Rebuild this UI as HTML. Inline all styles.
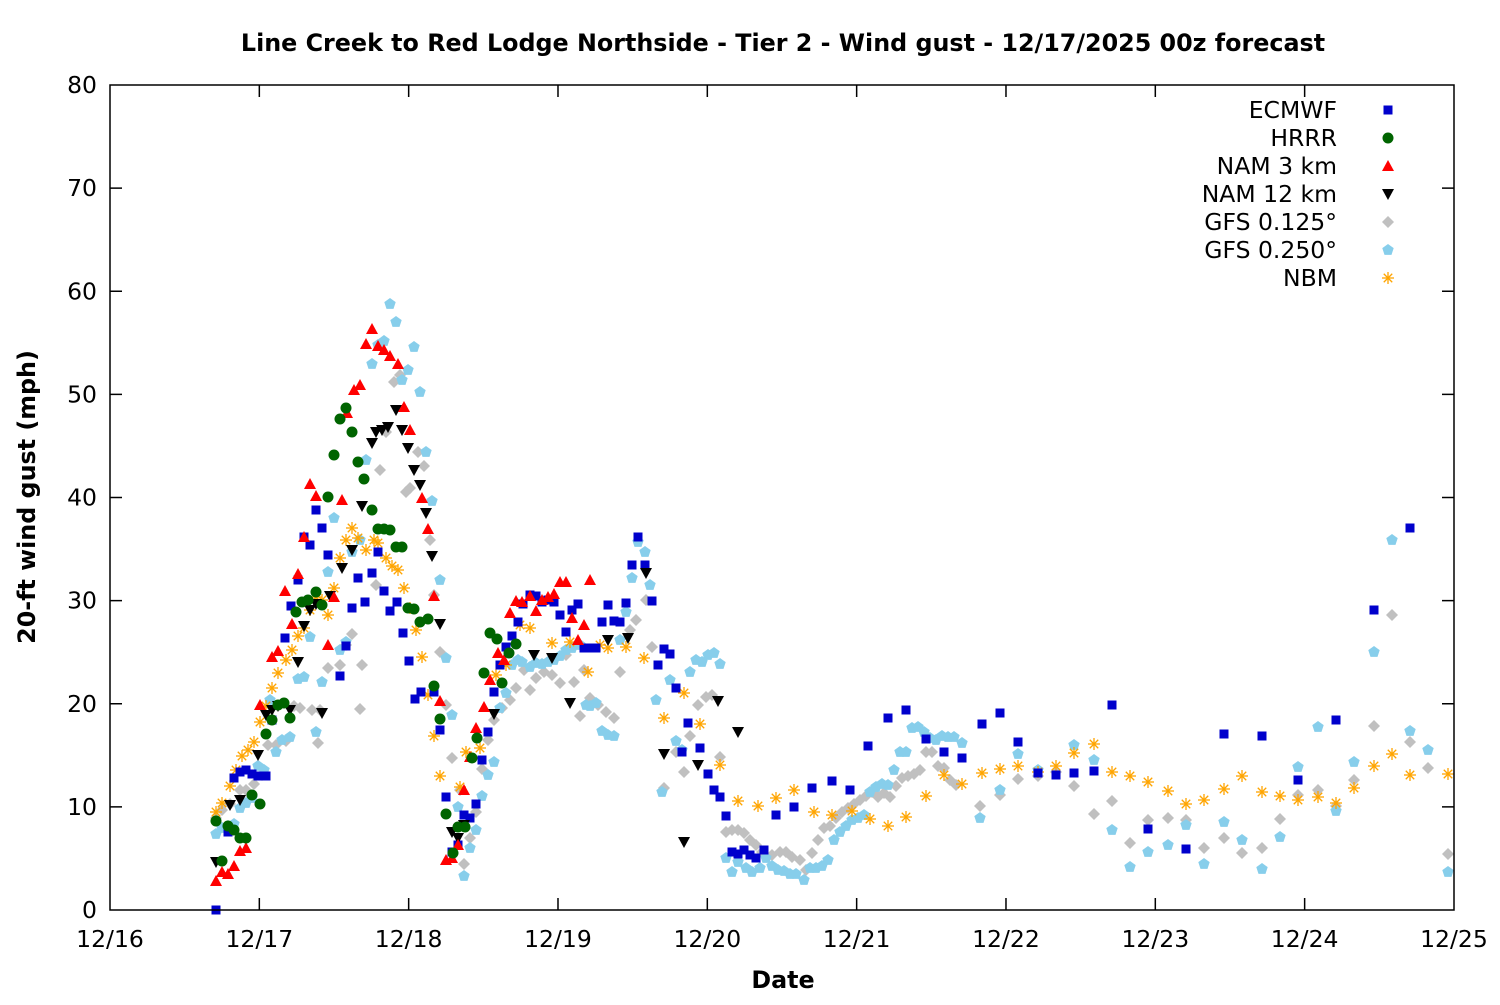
<!DOCTYPE html>
<html><head><meta charset="utf-8"><style>
html,body{margin:0;padding:0;background:#fff}
svg text{font-family:"DejaVu Sans","Liberation Sans",sans-serif}
</style></head><body>
<svg id="s" width="1500" height="1000" xmlns="http://www.w3.org/2000/svg">
<rect width="1500" height="1000" fill="#fff"/>
<text x="783" y="51" text-anchor="middle" font-size="23.8" font-weight="bold">Line Creek to Red Lodge Northside - Tier 2 - Wind gust - 12/17/2025 00z forecast</text>
<text x="783" y="988" text-anchor="middle" font-size="23.8" font-weight="bold">Date</text>
<text transform="translate(35,497) rotate(-90)" text-anchor="middle" font-size="23.8" font-weight="bold">20-ft wind gust (mph)</text>
<g id="ax" stroke="#000" stroke-width="1.5" fill="none"></g>
<g id="lab" font-size="23.5"></g>
<g id="pts"></g>
<g id="leg" font-size="23.5" text-anchor="end"></g>
<rect x="110" y="85" width="1344" height="825" fill="none" stroke="#000" stroke-width="1.5"/>
</svg>
<script>
var NS="http://www.w3.org/2000/svg";
function el(p,t,a,txt){var e=document.createElementNS(NS,t);for(var k in a)e.setAttribute(k,a[k]);if(txt!=null)e.textContent=txt;p.appendChild(e);return e;}
var ax=document.getElementById('ax'),lab=document.getElementById('lab');
for(var i=0;i<=8;i++){var y=910-i*103.125;
 if(i>0&&i<8){el(ax,'line',{x1:110,y1:y,x2:122,y2:y});el(ax,'line',{x1:1454,y1:y,x2:1442,y2:y});}
 el(lab,'text',{x:97,y:y+8,'text-anchor':'end'},String(i*10));}
var days=['12/16','12/17','12/18','12/19','12/20','12/21','12/22','12/23','12/24','12/25'];
for(var i=0;i<=9;i++){var x=110+i*149.33;
 if(i>0&&i<9){el(ax,'line',{x1:x,y1:910,x2:x,y2:898});el(ax,'line',{x1:x,y1:85,x2:x,y2:97});}
 el(lab,'text',{x:x,y:947,'text-anchor':'middle'},days[i]);}
function P(s){var a=s.trim().split(/;\s*/),r=[];a.forEach(function(q){var b=q.split(',');r.push([+b[0],+b[1]]);});return r;}
var D={
ec:P("216,910; 228,832; 234,778; 240,772; 246,770; 252,774; 258,776; 266,776; 272,720; 285,638; 291,606; 298,580; 304,537; 310,545; 316,510; 322,528; 328,555; 340,676; 346,646; 352,608; 358,578; 365,602; 372,573; 378,552; 384,591; 390,611; 397,602; 403,633; 409,661; 415,699; 421,692; 434,692; 440,730; 446,797; 452,852; 458,845; 464,815; 470,818; 476,804; 482,760; 488,732; 494,692; 500,665; 506,647; 512,636; 518,622; 523,604; 530,595; 536,596; 542,602; 548,600; 554,602; 560,615; 566,632; 572,610; 578,604; 584,648; 590,648; 596,648; 602,622; 608,605; 614,621; 620,622; 626,603; 632,565; 638,537; 645,565; 652,601; 658,665; 664,649; 670,654; 676,688; 682,752; 688,723; 700,748; 708,774; 714,790; 720,797; 726,816; 732,852; 738,854; 744,850; 750,855; 756,858; 764,850; 776,815; 794,807; 812,788; 832,781; 850,790; 868,746; 888,718; 906,710; 926,739; 944,752; 962,758; 982,724; 1000,713; 1018,742; 1038,773; 1056,775; 1074,773; 1094,771; 1112,705; 1148,829; 1186,849; 1224,734; 1262,736; 1298,780; 1336,720; 1374,610; 1410,528"),
hr:P("216,821; 222,861; 228,826; 234,830; 240,838; 246,838; 252,795; 260,804; 266,734; 272,720; 278,705; 284,703; 290,718; 296,612; 302,602; 308,600; 316,592; 322,605; 328,497; 334,455; 340,419; 346,408; 352,432; 358,462; 364,479; 372,510; 378,529; 384,529; 390,530; 396,547; 402,547; 408,608; 414,609; 420,622; 428,619; 434,686; 440,719; 446,814; 453,853; 458,827; 465,827; 472,758; 477,738; 484,673; 490,633; 497,639; 502,683; 509,653; 516,644"),
n3:P("216,881; 222,872; 228,874; 234,866; 240,851; 246,848; 260,705; 272,657; 278,651; 285,591; 292,624; 298,574; 304,537; 310,484; 316,496; 328,645; 334,597; 342,500; 347,413; 354,390; 360,385; 366,344; 372,329; 378,346; 384,350; 390,356; 398,364; 404,407; 410,430; 422,498; 428,529; 434,596; 440,701; 446,860; 452,858; 458,845; 464,790; 470,757; 476,728; 484,707; 490,680; 498,653; 504,660; 510,613; 516,601; 522,602; 530,596; 536,611; 542,600; 548,597; 554,594; 560,582; 566,582; 572,618; 578,640; 584,625; 590,580"),
n12:P("216,862; 230,805; 240,800; 258,755; 266,715; 272,710; 278,706; 290,710; 298,662; 304,626; 310,610; 316,604; 322,713; 330,596; 342,568; 352,550; 362,506; 372,443; 376,432; 382,430; 388,427; 396,410; 402,430; 408,448; 414,470; 420,485; 426,513; 432,556; 440,624; 452,832; 458,838; 464,825; 494,714; 534,655; 552,658; 570,703; 608,640; 628,638; 646,573; 664,754; 684,842; 698,765; 718,701; 738,732"),
g1:P("216,818; 222,810; 230,804; 240,790; 246,790; 254,784; 262,775; 268,745; 276,745; 286,741; 294,706; 300,708; 312,710; 320,710; 318,743; 328,668; 340,665; 346,645; 352,634; 360,709; 362,665; 376,585; 380,470; 386,432; 394,382; 400,375; 406,492; 410,488; 418,452; 424,466; 430,540; 434,595; 440,652; 446,705; 452,758; 460,790; 464,864; 470,838; 476,812; 482,769; 488,740; 494,720; 502,708; 510,700; 516,688; 524,670; 530,690; 536,678; 544,672; 552,675; 560,683; 566,655; 574,682; 580,716; 584,670; 590,698; 598,705; 606,712; 614,718; 620,672; 630,630; 636,620; 646,600; 652,647; 664,788; 676,752; 684,772; 690,736; 698,705; 706,697; 712,695; 720,757; 726,832; 732,830; 738,830; 744,833; 750,840; 756,845; 762,852; 772,855; 780,852; 786,852; 792,857; 800,860; 806,870; 812,853; 818,840; 824,828; 830,826; 836,818; 842,812; 848,808; 854,804; 860,800; 866,796; 872,792; 878,797; 884,793; 890,797; 896,786; 902,778; 908,776; 914,774; 920,770; 926,752; 932,752; 938,766; 944,768; 950,780; 956,785; 980,806; 1000,795; 1018,779; 1038,776; 1056,772; 1074,786; 1094,814; 1112,801; 1130,843; 1148,820; 1168,818; 1186,820; 1204,848; 1224,838; 1242,853; 1262,848; 1280,819; 1298,795; 1318,790; 1336,806; 1354,780; 1374,726; 1392,615; 1410,742; 1428,768; 1448,854"),
g2:P("216,834; 222,828; 228,826; 234,824; 240,808; 246,803; 252,798; 258,766; 264,770; 270,700; 276,752; 282,740; 290,737; 298,679; 304,677; 310,637; 316,732; 322,682; 328,572; 334,518; 340,650; 346,642; 352,552; 360,540; 366,460; 372,364; 378,345; 384,341; 390,304; 396,322; 402,380; 408,370; 414,347; 420,392; 426,452; 432,501; 440,580; 446,658; 452,715; 458,807; 464,876; 470,848; 476,830; 482,796; 488,775; 494,762; 500,708; 506,693; 512,665; 518,660; 522,662; 530,667; 536,663; 542,664; 548,662; 554,660; 560,656; 566,650; 572,648; 580,645; 586,705; 590,706; 596,703; 602,731; 608,735; 614,736; 620,640; 626,612; 632,578; 638,542; 645,552; 650,585; 656,700; 662,792; 670,680; 676,741; 682,750; 690,672; 696,660; 702,662; 708,655; 714,653; 720,664; 726,858; 732,872; 738,862; 746,868; 752,872; 760,868; 766,858; 772,866; 778,870; 784,871; 790,874; 796,874; 804,880; 810,868; 816,868; 822,866; 828,860; 834,840; 840,832; 846,826; 852,820; 858,818; 864,815; 870,792; 876,787; 882,784; 888,785; 894,770; 900,752; 906,752; 912,728; 918,727; 924,732; 930,738; 936,740; 942,736; 948,737; 954,737; 962,743; 980,818; 1000,790; 1018,754; 1038,770; 1074,745; 1094,760; 1112,830; 1130,867; 1148,852; 1168,845; 1186,825; 1204,864; 1224,822; 1242,840; 1262,869; 1280,837; 1298,767; 1318,727; 1336,811; 1354,762; 1374,652; 1392,540; 1410,731; 1428,750; 1448,872"),
nb:P("216,812; 222,803; 230,786; 236,770; 242,756; 248,750; 254,742; 260,722; 266,706; 272,688; 278,673; 286,660; 292,650; 298,636; 304,628; 310,610; 316,597; 322,600; 328,615; 334,588; 340,558; 346,540; 352,528; 358,538; 366,550; 374,540; 378,543; 386,558; 392,566; 398,570; 404,588; 410,608; 416,630; 422,657; 428,695; 434,736; 440,776; 460,787; 466,752; 480,748; 496,675; 506,665; 520,625; 530,628; 552,643; 570,642; 588,672; 600,645; 608,648; 626,647; 644,658; 664,718; 684,693; 700,724; 720,765; 738,801; 758,806; 776,798; 794,790; 814,812; 832,815; 852,811; 870,819; 888,826; 906,817; 926,796; 944,775; 962,784; 982,773; 1000,769; 1018,766; 1038,772; 1056,766; 1074,753; 1094,744; 1112,772; 1130,776; 1148,782; 1168,791; 1186,804; 1204,800; 1224,789; 1242,776; 1262,792; 1280,796; 1298,800; 1318,797; 1336,803; 1354,788; 1374,766; 1392,754; 1410,775; 1448,774")
};
function mk(g,t,x,y){
 if(t=='ec')el(g,'rect',{x:x-4.5,y:y-4.5,width:9,height:9,fill:'#0000cc'});
 else if(t=='hr')el(g,'circle',{cx:x,cy:y,r:5.5,fill:'#006400'});
 else if(t=='n3')el(g,'polygon',{points:(x-6)+','+(y+5)+' '+(x+6)+','+(y+5)+' '+x+','+(y-6),fill:'#ff0000'});
 else if(t=='n12')el(g,'polygon',{points:(x-6)+','+(y-5)+' '+(x+6)+','+(y-5)+' '+x+','+(y+6),fill:'#000'});
 else if(t=='g1')el(g,'polygon',{points:x+','+(y-6)+' '+(x+6)+','+y+' '+x+','+(y+6)+' '+(x-6)+','+y,fill:'#c0c0c0'});
 else if(t=='g2'){var p=[];for(var k=0;k<5;k++){var a=-Math.PI/2+k*2*Math.PI/5;p.push((x+6*Math.cos(a)).toFixed(1)+','+(y+6*Math.sin(a)).toFixed(1));}el(g,'polygon',{points:p.join(' '),fill:'#87ceeb'});}
 else if(t=='nb'){var gg=el(g,'g',{stroke:'#ffa500','stroke-width':1.3});for(var k=0;k<4;k++){var a=k*Math.PI/4;el(gg,'line',{x1:x-6*Math.cos(a),y1:y-6*Math.sin(a),x2:x+6*Math.cos(a),y2:y+6*Math.sin(a)});}}
}
var pts=document.getElementById('pts');
['g1','g2','nb','ec','n12','n3','hr'].forEach(function(t){D[t].forEach(function(p){mk(pts,t,p[0],p[1]);});});
var leg=document.getElementById('leg');
var L=[['ec','ECMWF'],['hr','HRRR'],['n3','NAM 3 km'],['n12','NAM 12 km'],['g1','GFS 0.125°'],['g2','GFS 0.250°'],['nb','NBM']];
L.forEach(function(l,i){var y=110+i*28;el(leg,'text',{x:1337,y:y+8},l[1]);mk(leg,l[0],1388,y);});
</script>
</body></html>
